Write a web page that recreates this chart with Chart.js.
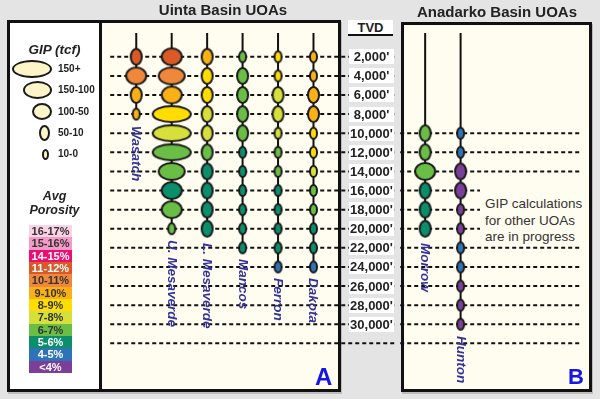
<!DOCTYPE html>
<html>
<head>
<meta charset="utf-8">
<title>GIP by depth - Uinta and Anadarko Basin UOAs</title>
<script src="https://cdn.jsdelivr.net/npm/chart.js@4.4.1/dist/chart.umd.min.js"></script>
<style>
  html, body { margin: 0; padding: 0; }
  body {
    width: 600px; height: 399px; position: relative; overflow: hidden;
    background: #e4e4e4; color: #222;
    font-family: "Liberation Sans", Arial, sans-serif;
  }
  .box { position: absolute; box-sizing: border-box; border: 3px solid #111; box-shadow: 1px 2px 0 #bdbdbd; }
  #legendBox { left: 7px; top: 20px; width: 95px; height: 372px; background: #fff; }
  #panelA { left: 99px; top: 20px; width: 242px; height: 372px; background: #fffdf0; }
  #panelB { left: 401px; top: 22px; width: 191px; height: 370px; background: #fffdf0; }
  #gipChart { position: absolute; left: 0; top: 22px; z-index: 2; }
  #overlay { position: absolute; left: 0; top: 0; width: 600px; height: 399px; z-index: 3; }
  #overlay div { position: absolute; white-space: nowrap; }
  .title { font-weight: bold; font-size: 15px; line-height: 15px; transform: translateX(-50%); }
  .fm {
    writing-mode: vertical-rl; font: italic bold 13.5px "Liberation Sans", Arial, sans-serif;
    color: #33339a; line-height: 16px; width: 16px;
  }
  .tvd {
    background: #fff; width: 45px; height: 15px; line-height: 15px;
    text-align: center; font-weight: bold; font-size: 13px;
  }
  .lgTitle { font: italic bold 13.5px "Liberation Sans", Arial, sans-serif; text-align: center; width: 95px; left: 7px; }
  .lgLabel { font-weight: bold; font-size: 10px; line-height: 12px; }
  .lgEll { box-sizing: border-box; border: 2px solid #1a1a1a; border-radius: 50%; background: #fdf4c8; }
  .poro { left: 29px; width: 43px; text-align: center; font-weight: bold; font-size: 11px; }
  .note { font-size: 13.5px; line-height: 16.5px; color: #333; background: #fffdf0; box-sizing: border-box; }
  .tag { font-weight: bold; color: #1515e8; }
</style>
</head>
<body>
<div class="box" id="legendBox"></div>
<div class="box" id="panelA"></div>
<div class="box" id="panelB"></div>
<canvas id="gipChart" width="600" height="370"></canvas>
<div id="overlay"></div>
<script>
// ---------- data ----------
const basinTitles = ['Uinta Basin UOAs', 'Anadarko Basin UOAs'];
const formations = ['Wasatch', 'U. Mesaverde', 'L. Mesaverde', 'Mancos', 'Ferron', 'Dakota', 'Morrow', 'Hunton'];
const tvdTicks = [2000, 4000, 6000, 8000, 10000, 12000, 14000, 16000, 18000, 20000, 22000, 24000, 26000, 28000, 30000];
const tvdLabels = ["2,000'", "4,000'", "6,000'", "8,000'", "10,000'", "12,000'", "14,000'", "16,000'",
                   "18,000'", "20,000'", "22,000'", "24,000'", "26,000'", "28,000'", "30,000'"];
const porosityBins = ['16-17%', '15-16%', '14-15%', '11-12%', '10-11%', '9-10%', '8-9%', '7-8%', '6-7%', '5-6%', '4-5%', '<4%'];
const gipBins = ['150+', '150-100', '100-50', '50-10', '10-0'];

// Uinta Basin
const wasatchDepth = [2000, 4000, 6000, 8000];
const wasatchPoro  = ['11-12%', '10-11%', '9-10%', '9-10%'];
const wasatchGip   = ['50-10', '100-50', '50-10', '10-0'];

const uMesaverdeDepth = [2000, 4000, 6000, 8000, 10000, 12000, 14000, 16000, 18000, 20000];
const uMesaverdePoro  = ['11-12%', '10-11%', '9-10%', '8-9%', '7-8%', '6-7%', '6-7%', '5-6%', '6-7%', '6-7%'];
const uMesaverdeGip   = ['100-50', '150-100', '100-50', '150+', '150+', '150+', '150-100', '100-50', '100-50', '10-0'];

const lMesaverdeDepth = [2000, 4000, 6000, 8000, 10000, 12000, 14000, 16000, 18000, 20000];
const lMesaverdePoro  = ['9-10%', '8-9%', '8-9%', '7-8%', '7-8%', '6-7%', '5-6%', '5-6%', '5-6%', '5-6%'];
const lMesaverdeGip   = ['50-10', '50-10', '50-10', '50-10', '50-10', '50-10', '50-10', '50-10', '50-10', '50-10'];

const mancosDepth = [2000, 4000, 6000, 8000, 10000, 12000, 14000, 16000, 18000, 20000, 22000];
const mancosPoro  = ['6-7%', '6-7%', '6-7%', '6-7%', '6-7%', '5-6%', '5-6%', '5-6%', '5-6%', '5-6%', '5-6%'];
const mancosGip   = ['10-0', '50-10', '50-10', '50-10', '50-10', '10-0', '10-0', '10-0', '10-0', '10-0', '10-0'];

const ferronDepth = [2000, 4000, 6000, 8000, 10000, 12000, 14000, 16000, 18000, 20000, 22000, 24000];
const ferronPoro  = ['8-9%', '8-9%', '7-8%', '7-8%', '7-8%', '6-7%', '6-7%', '5-6%', '5-6%', '5-6%', '5-6%', '4-5%'];
const ferronGip   = ['10-0', '10-0', '50-10', '50-10', '10-0', '10-0', '10-0', '10-0', '10-0', '10-0', '10-0', '10-0'];

const dakotaDepth = [2000, 4000, 6000, 8000, 10000, 12000, 14000, 16000, 18000, 20000, 22000, 24000];
const dakotaPoro  = ['9-10%', '9-10%', '9-10%', '9-10%', '8-9%', '8-9%', '7-8%', '6-7%', '6-7%', '5-6%', '5-6%', '4-5%'];
const dakotaGip   = ['10-0', '10-0', '50-10', '50-10', '10-0', '10-0', '10-0', '10-0', '10-0', '10-0', '10-0', '10-0'];

// Anadarko Basin
const morrowDepth = [10000, 12000, 14000, 16000, 18000, 20000];
const morrowPoro  = ['6-7%', '6-7%', '6-7%', '5-6%', '5-6%', '5-6%'];
const morrowGip   = ['50-10', '50-10', '100-50', '50-10', '50-10', '50-10'];

const huntonDepth = [10000, 12000, 14000, 16000, 18000, 20000, 22000, 24000, 26000, 28000, 30000];
const huntonPoro  = ['4-5%', '4-5%', '<4%', '<4%', '<4%', '<4%', '4-5%', '4-5%', '<4%', '<4%', '<4%'];
const huntonGip   = ['10-0', '10-0', '50-10', '50-10', '10-0', '10-0', '10-0', '10-0', '10-0', '10-0', '10-0'];

const series = [
  { depth: wasatchDepth, poro: wasatchPoro, gip: wasatchGip },
  { depth: uMesaverdeDepth, poro: uMesaverdePoro, gip: uMesaverdeGip },
  { depth: lMesaverdeDepth, poro: lMesaverdePoro, gip: lMesaverdeGip },
  { depth: mancosDepth, poro: mancosPoro, gip: mancosGip },
  { depth: ferronDepth, poro: ferronPoro, gip: ferronGip },
  { depth: dakotaDepth, poro: dakotaPoro, gip: dakotaGip },
  { depth: morrowDepth, poro: morrowPoro, gip: morrowGip },
  { depth: huntonDepth, poro: huntonPoro, gip: huntonGip }
];

// ---------- styles / layout ----------
const poroColor = {
  '16-17%': '#fbd3e6', '15-16%': '#f49ac6', '14-15%': '#ec0f73', '11-12%': '#d95a27',
  '10-11%': '#f0883c', '9-10%': '#fbb116', '8-9%': '#ffdd00', '7-8%': '#d7df3a',
  '6-7%': '#6abd45', '5-6%': '#0b8f6b', '4-5%': '#2e73b8', '<4%': '#7b3f99'
};
const poroText = {
  '16-17%': '#333', '15-16%': '#333', '14-15%': '#fff', '11-12%': '#fff', '10-11%': '#333', '9-10%': '#333',
  '8-9%': '#333', '7-8%': '#333', '6-7%': '#333', '5-6%': '#fff', '4-5%': '#fff', '<4%': '#fff'
};
// ellipse width/height (px) for each GIP class
const gipSize = { '150+': [40, 18], '150-100': [28, 19], '100-50': [22, 19], '50-10': [13, 18], '10-0': [9, 13] };
const legendSize = { '150+': [40, 18], '150-100': [29, 18], '100-50': [20, 17], '50-10': [11, 16], '10-0': [7, 11] };
const legendCx = [32, 37.5, 42, 44, 45.5];

// column slot on the x scale (panel A: 0..5, panel B after the TVD column)
const formationSlot = [0, 1, 2, 3, 4, 5, 8.15, 9.15];
const xMin = -3.533, xMax = 12.772;
const yTop = -490, yBottom = 35940;
const gridA = [-0.734, 7.283];
const gridB = [7.446, 12.5];
const canvasTop = 22;

// ---------- bubbles as point images ----------
const bubbleCache = {};
function bubble(poro, gip) {
  const key = poro + '|' + gip;
  if (bubbleCache[key]) return bubbleCache[key];
  const [w, h] = gipSize[gip];
  const c = document.createElement('canvas');
  c.width = w + 2;
  c.height = h + 2;
  const g = c.getContext('2d');
  g.beginPath();
  g.ellipse(c.width / 2, c.height / 2, w / 2 - 1, h / 2 - 1, 0, 0, Math.PI * 2);
  g.fillStyle = poroColor[poro];
  g.fill();
  g.lineWidth = 2;
  g.strokeStyle = '#1a1a1a';
  g.stroke();
  bubbleCache[key] = c;
  return c;
}

function dashLine(range, d) {
  return {
    data: [{ x: range[0], y: d }, { x: range[1], y: d }],
    showLine: true, borderColor: '#111', borderWidth: 2, borderDash: [4, 3],
    pointRadius: 0, order: 3
  };
}

const datasets = [];
const gridDepths = tvdTicks.concat([32000]);
const anadarkoTop = Math.min(morrowDepth[0], huntonDepth[0]);
gridDepths.forEach(d => {
  datasets.push(dashLine(gridA, d));
  if (d >= anadarkoTop) datasets.push(dashLine(gridB, d));
});

series.forEach((s, i) => {
  const slot = formationSlot[i];
  // stem from the top of the panel down to the deepest interval
  datasets.push({
    data: [{ x: slot, y: yTop }, { x: slot, y: s.depth[s.depth.length - 1] }],
    showLine: true, borderColor: '#111', borderWidth: 2, pointRadius: 0, order: 2
  });
  datasets.push({
    label: formations[i],
    data: s.depth.map(d => ({ x: slot, y: d })),
    pointStyle: ctx => bubble(s.poro[ctx.dataIndex], s.gip[ctx.dataIndex]),
    pointRadius: 10,
    order: 1
  });
});

const canvas = document.getElementById('gipChart');
const chart = new Chart(canvas.getContext('2d'), {
  type: 'scatter',
  data: { datasets: datasets },
  options: {
    responsive: false,
    animation: false,
    events: [],
    layout: { padding: 0 },
    plugins: { legend: { display: false }, tooltip: { enabled: false } },
    scales: {
      x: { type: 'linear', display: false, min: xMin, max: xMax },
      y: { type: 'linear', display: false, reverse: true, min: yTop, max: yBottom }
    }
  }
});

// ---------- text overlay ----------
const overlay = document.getElementById('overlay');
function addDiv(cls, text, css) {
  const el = document.createElement('div');
  el.className = cls;
  el.textContent = text;
  Object.assign(el.style, css);
  overlay.appendChild(el);
  return el;
}

const xs = chart.scales.x, ys = chart.scales.y;

addDiv('title', basinTitles[0], { left: '223px', top: '1.5px' });
addDiv('title', basinTitles[1], { left: '497px', top: '3.5px' });

formations.forEach((name, i) => {
  const s = series[i];
  const last = s.depth[s.depth.length - 1];
  const h = gipSize[s.gip[s.gip.length - 1]][1];
  addDiv('fm', name, {
    left: (xs.getPixelForValue(formationSlot[i]) - 8) + 'px',
    top: (ys.getPixelForValue(last) + canvasTop + h / 2 + 5) + 'px'
  });
});

addDiv('tvd', 'TVD', { left: '348px', top: '20px', height: '14px', borderBottom: '2px solid #111' });
tvdTicks.forEach((d, i) => {
  addDiv('tvd', tvdLabels[i], { left: '349px', top: (ys.getPixelForValue(d) + canvasTop - 7.5) + 'px' });
});

const note = addDiv('note', '', { left: '480px', top: '184px', width: '109px', height: '60px', paddingTop: '12px', paddingLeft: '5px' });
note.innerHTML = 'GIP calculations<br>for other UOAs<br>are in progress';

addDiv('tag', 'A', { left: '315px', top: '364.7px', fontSize: '24px', lineHeight: '24px' });
addDiv('tag', 'B', { left: '568px', top: '366.4px', fontSize: '22px', lineHeight: '22px' });

// legend: GIP classes
addDiv('lgTitle', 'GIP (tcf)', { top: '42px', lineHeight: '16px' });
gipBins.forEach((b, i) => {
  const [w, h] = legendSize[b];
  const cy = 69 + 21.25 * i;
  addDiv('lgEll', '', { left: (legendCx[i] - w / 2) + 'px', top: (cy - h / 2) + 'px', width: w + 'px', height: h + 'px' });
  addDiv('lgLabel', b, { left: '58px', top: (cy - 6) + 'px' });
});

// legend: porosity colours
addDiv('lgTitle', 'Avg', { top: '189px', lineHeight: '15px', fontSize: '12.5px' });
addDiv('lgTitle', 'Porosity', { top: '203px', lineHeight: '15px', fontSize: '12.5px' });
const rowH = 148 / porosityBins.length;
porosityBins.forEach((p, i) => {
  addDiv('poro', p, {
    top: (225 + rowH * i) + 'px', height: rowH + 'px', lineHeight: rowH + 'px',
    background: poroColor[p], color: poroText[p]
  });
});
</script>
</body>
</html>
